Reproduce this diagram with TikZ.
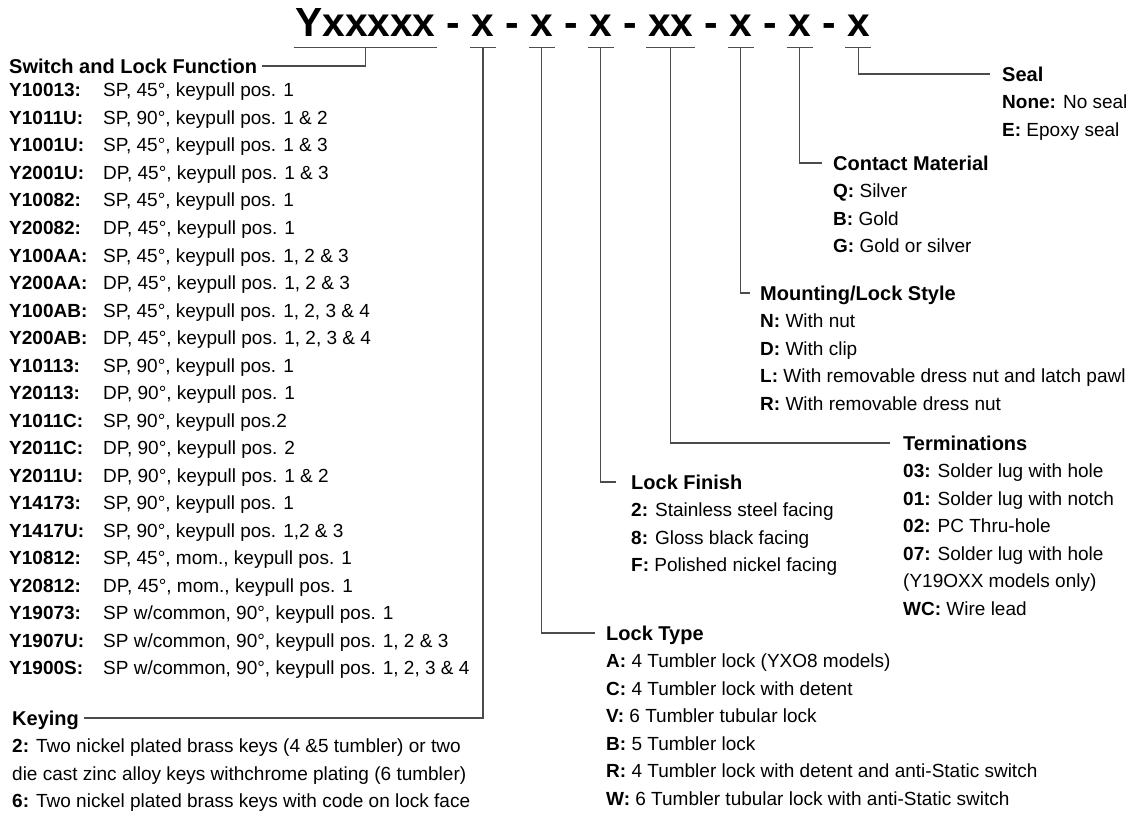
\documentclass[tikz,border=0pt]{standalone}
\usepackage{fontspec}
\setmainfont{Liberation Sans}
\begin{document}
\begin{tikzpicture}[x=1pt,y=-1pt,
  conn/.style={draw=black!70,line width=1.1pt},
  code/.style={font=\fontsize{40.7}{44}\selectfont\bfseries,inner xsep=1.5pt,inner ysep=10pt,text depth=0pt,anchor=base},
  hdr/.style={font=\fontsize{20}{24}\selectfont\bfseries,inner ysep=0pt,text height=14.3pt,text depth=0pt,anchor=west},
  item/.style={font=\fontsize{19}{22}\selectfont,inner sep=0pt,anchor=base west}]
\useasboundingbox (0,0) rectangle (1130,813);
% part number
\node[code](s0) at (365.4,37) {Yxxxxx};
\node[code](d1) at (453.6,37) {-};
\node[code](s1) at (483,37) {x};
\node[code](d2) at (512.4,37) {-};
\node[code](s2) at (541.8,37) {x};
\node[code](d3) at (571.2,37) {-};
\node[code](s3) at (600.6,37) {x};
\node[code](d4) at (630,37) {-};
\node[code](s4) at (670.7,37) {xx};
\node[code](d5) at (711.4,37) {-};
\node[code](s5) at (740.8,37) {x};
\node[code](d6) at (770.2,37) {-};
\node[code](s6) at (799.6,37) {x};
\node[code](d7) at (829,37) {-};
\node[code](s7) at (858.4,37) {x};
\foreach \s in {s0,s1,s2,s3,s4,s5,s6,s7}
  \draw[conn](\s.south west)--(\s.south east);
% switch and lock function
\node[hdr,inner xsep=5pt](sw) at (4,66) {Switch and Lock Function};
\foreach \kn/\kt [count=\i from 0] in {Y10013/{SP, 45°, keypull pos. 1},Y1011U/{SP, 90°, keypull pos. 1 \& 2},
  Y1001U/{SP, 45°, keypull pos. 1 \& 3},Y2001U/{DP, 45°, keypull pos. 1 \& 3},Y10082/{SP, 45°, keypull pos. 1},
  Y20082/{DP, 45°, keypull pos. 1},Y100AA/{SP, 45°, keypull pos. 1, 2 \& 3},Y200AA/{DP, 45°, keypull pos. 1, 2 \& 3},
  Y100AB/{SP, 45°, keypull pos. 1, 2, 3 \& 4},Y200AB/{DP, 45°, keypull pos. 1, 2, 3 \& 4},Y10113/{SP, 90°, keypull pos. 1},
  Y20113/{DP, 90°, keypull pos. 1},Y1011C/{SP, 90°, keypull pos.2},Y2011C/{DP, 90°, keypull pos. 2},
  Y2011U/{DP, 90°, keypull pos. 1 \& 2},Y14173/{SP, 90°, keypull pos. 1},Y1417U/{SP, 90°, keypull pos. 1,2 \& 3},
  Y10812/{SP, 45°, mom., keypull pos. 1},Y20812/{DP, 45°, mom., keypull pos. 1},Y19073/{SP w/common, 90°, keypull pos. 1},
  Y1907U/{SP w/common, 90°, keypull pos. 1, 2 \& 3},Y1900S/{SP w/common, 90°, keypull pos. 1, 2, 3 \& 4}}
  \node[item](sw-\i) at (9,97+27.5*\i) {\makebox[94pt][l]{\bfseries\kn:}\kt};
% keying
\node[hdr,inner xsep=5pt](key) at (7,718) {Keying};
\foreach \t [count=\i] in {{\textbf{2:} Two nickel plated brass keys (4 \&5 tumbler) or two},
  {die cast zinc alloy keys withchrome plating (6 tumbler)},
  {\textbf{6:} Two nickel plated brass keys with code on lock face}}
  \node[item](key-\i) at (12,725.2+27.5*\i) {\t};
% lock type
\node[hdr,inner xsep=11pt](lt) at (595,633) {Lock Type};
\foreach \t [count=\i] in {{\textbf{A:} 4 Tumbler lock (YXO8 models)},{\textbf{C:} 4 Tumbler lock with detent},
  {\textbf{V:} 6 Tumbler tubular lock},{\textbf{B:} 5 Tumbler lock},
  {\textbf{R:} 4 Tumbler lock with detent and anti-Static switch},{\textbf{W:} 6 Tumbler tubular lock with anti-Static switch}}
  \node[item](lt-\i) at (606,640.2+27.5*\i) {\t};
% lock finish
\node[hdr,inner xsep=15pt](lf) at (616,482) {Lock Finish};
\foreach \t [count=\i] in {{\textbf{2:} Stainless steel facing},{\textbf{8:} Gloss black facing},
  {\textbf{F:} Polished nickel facing}}
  \node[item](lf-\i) at (631,489.2+27.5*\i) {\t};
% terminations
\node[hdr,inner xsep=13pt](tm) at (890,443) {Terminations};
\foreach \t [count=\i] in {{\textbf{03:} Solder lug with hole},{\textbf{01:} Solder lug with notch},
  {\textbf{02:} PC Thru-hole},{\textbf{07:} Solder lug with hole},{(Y19OXX models only)},{\textbf{WC:} Wire lead}}
  \node[item](tm-\i) at (903,450.2+27.5*\i) {\t};
% mounting/lock style
\node[hdr,inner xsep=10pt](ms) at (750,293) {Mounting/Lock Style};
\foreach \t [count=\i] in {{\textbf{N:} With nut},{\textbf{D:} With clip},
  {\textbf{L:} With removable dress nut and latch pawl},{\textbf{R:} With removable dress nut}}
  \node[item](ms-\i) at (760,300.2+27.5*\i) {\t};
% contact material
\node[hdr,inner xsep=11pt](cm) at (822,163) {Contact Material};
\foreach \t [count=\i] in {{\textbf{Q:} Silver},{\textbf{B:} Gold},{\textbf{G:} Gold or silver}}
  \node[item](cm-\i) at (833,170.2+27.5*\i) {\t};
% seal
\node[hdr,inner xsep=12pt](sl) at (990,74) {Seal};
\foreach \t [count=\i] in {{\textbf{None:} No seal},{\textbf{E:} Epoxy seal}}
  \node[item](sl-\i) at (1002,81.2+27.5*\i) {\t};
% leaders
\draw[conn](s0.south)|-(sw.east);
\draw[conn](s1.south)|-(key.east);
\draw[conn](s2.south)|-(lt.west);
\draw[conn](s3.south)|-(lf.west);
\draw[conn](s4.south)|-(tm.west);
\draw[conn](s5.south)|-(ms.west);
\draw[conn](s6.south)|-(cm.west);
\draw[conn](s7.south)|-(sl.west);
\end{tikzpicture}
\end{document}
